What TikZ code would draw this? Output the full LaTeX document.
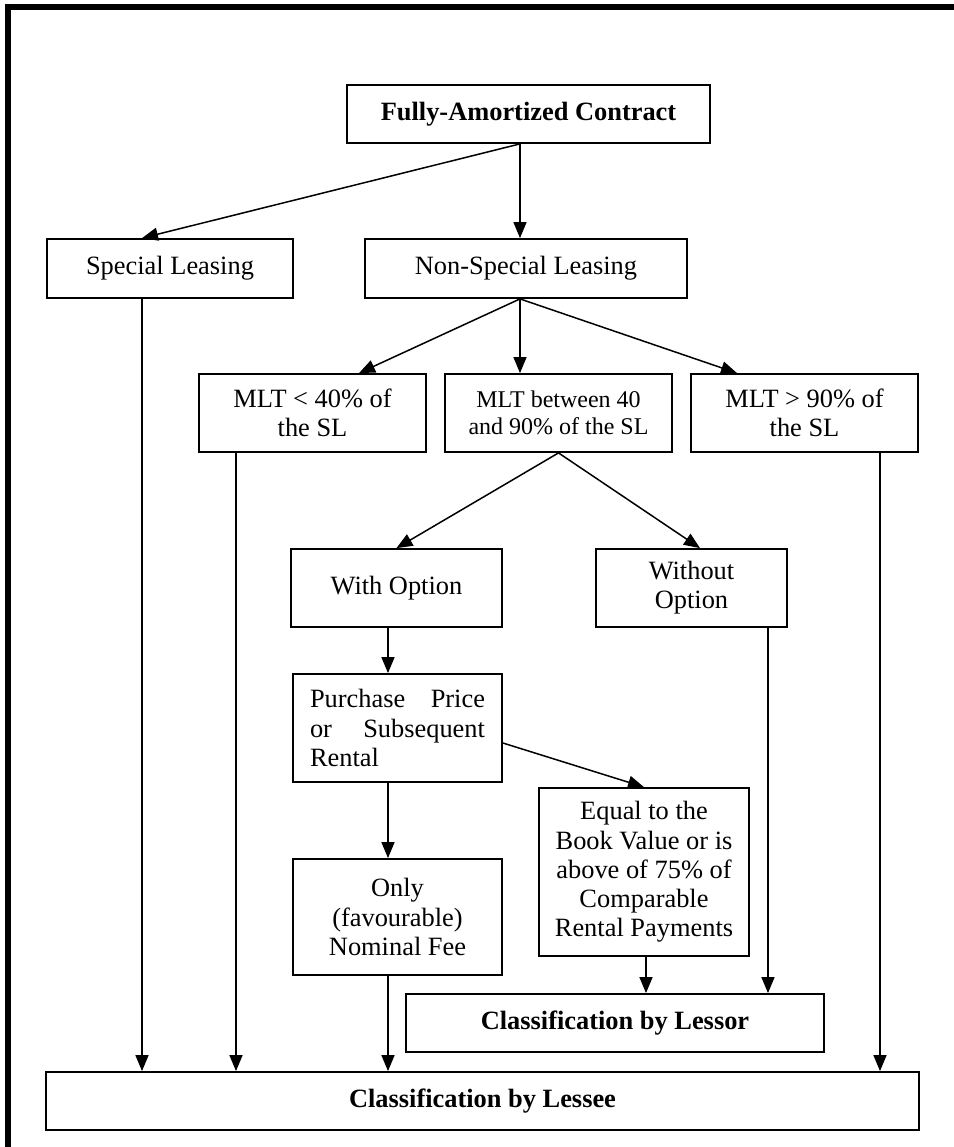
\documentclass[tikz,border=0pt]{standalone}
\usepackage{fontspec}
\setmainfont{Liberation Serif}
\usetikzlibrary{arrows.meta}

\tikzset{
  box/.style={draw, line width=0.9pt, align=center, inner sep=2pt,
    font=\fontsize{13.2}{14.6}\selectfont},
  link/.style={-{Triangle[length=8pt,width=6.5pt]}, line width=0.75pt},
}

\begin{document}
\begin{tikzpicture}[x=0.5pt,y=-0.5pt]
\useasboundingbox (0,0) rectangle (954,1147);
\draw[line width=3pt] (8,1160) -- (8,6.5) -- (970,6.5);

% top levels
\node[box, minimum width=181.5pt, minimum height=29pt] (fac) at (528.5,114) {\textbf{Fully-Amortized Contract}};
\node[box, minimum width=123pt, minimum height=29.5pt] (spl) at (170,268.5) {Special Leasing};
\node[box, minimum width=161pt, minimum height=29.5pt] (nsl) at (526,268.5) {Non-Special Leasing};

\node[box, minimum width=113.5pt, minimum height=39pt] (mlow) at (312.5,413) {MLT < 40\% of\\the SL};
\node[box, minimum width=113.5pt, minimum height=39pt, font=\fontsize{12}{13.5}\selectfont] (mmid) at (558.5,413) {MLT between 40\\and 90\% of the SL};
\node[box, minimum width=113.5pt, minimum height=39pt] (mhigh) at (804.5,413) {MLT > 90\% of\\the SL};

\node[box, minimum width=105.5pt, minimum height=39pt] (wopt) at (396.5,588) {With Option};
\node[box, minimum width=95.5pt, minimum height=39pt] (woopt) at (691.5,588) {Without\\Option};

\node[box, align=justify, text width=87.5pt, inner xsep=8.5pt, minimum height=54pt] (price) at (397.5,728) {Purchase Price\linebreak or Subsequent\linebreak Rental};
\node[box, minimum width=105pt, minimum height=84pt] (equal) at (644,872) {Equal to the\\Book Value or is\\above of 75\% of\\Comparable\\Rental Payments};
\node[box, minimum width=104.5pt, minimum height=58pt] (nominal) at (397.5,917) {Only\\(favourable)\\Nominal Fee};

% bottom
\node[box, minimum width=209pt, minimum height=29pt] (lessor) at (615,1023) {\textbf{Classification by Lessor}};
\node[box, minimum width=436.5pt, minimum height=29pt] (lessee) at (482.5,1101) {\textbf{Classification by Lessee}};

% drop lines
\coordinate (xa) at (142,0);
\coordinate (xb) at (236,0);
\coordinate (xc) at (388,0);
\coordinate (xd) at (520,0);
\coordinate (xf) at (646,0);
\coordinate (xg) at (768,0);
\coordinate (xh) at (880,0);

\draw[link] (fac.south -| xd) -- (spl.north -| xa);
\draw[link] (fac.south -| xd) -- (nsl.north -| xd);
\draw[link] (nsl.south -| xd) -- ([xshift=23.25pt]mlow.north);
\draw[link] (nsl.south -| xd) -- (mmid.north -| xd);
\draw[link] (nsl.south -| xd) -- ([xshift=-33.75pt]mhigh.north);
\draw[link] (mmid.south) -- (wopt.north);
\draw[link] (mmid.south) -- ([xshift=4.25pt]woopt.north);
\draw[link] (wopt.south -| xc) -- (price.north -| xc);
\draw[link] ([yshift=-7.5pt]price.east) -- (equal.north);
\draw[link] (price.south -| xc) -- (nominal.north -| xc);
\draw[link] (equal.south -| xf) -- (lessor.north -| xf);
\draw[link] (woopt.south -| xg) -- (lessor.north -| xg);
\draw[link] (spl.south -| xa) -- (lessee.north -| xa);
\draw[link] (mlow.south -| xb) -- (lessee.north -| xb);
\draw[link] (nominal.south -| xc) -- (lessee.north -| xc);
\draw[link] (mhigh.south -| xh) -- (lessee.north -| xh);
\end{tikzpicture}
\end{document}
